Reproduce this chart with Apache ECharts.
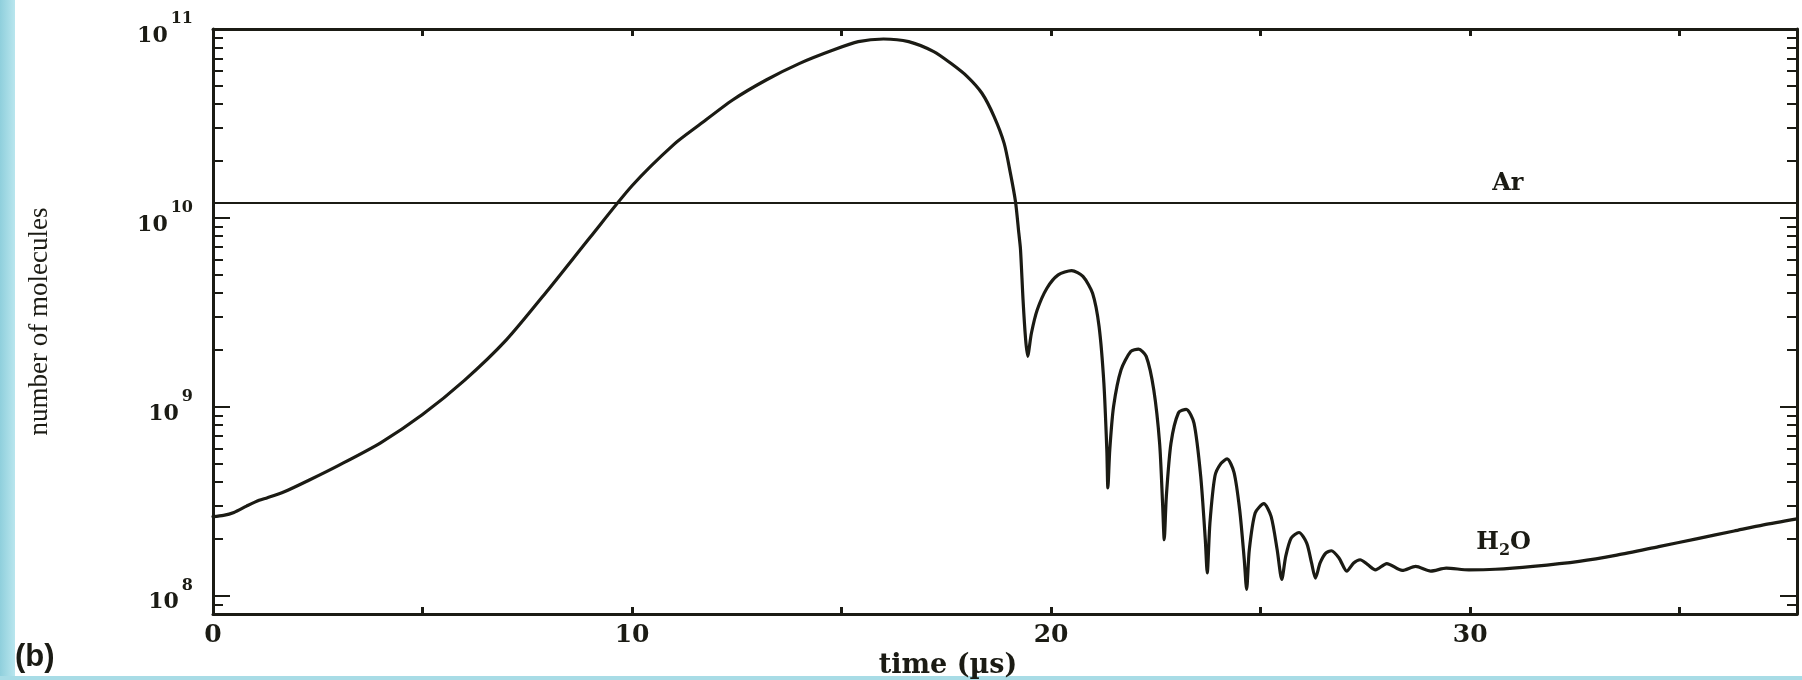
<!DOCTYPE html>
<html>
<head>
<meta charset="utf-8">
<title>Number of molecules vs time</title>
<script src="https://cdn.jsdelivr.net/npm/echarts@6/dist/echarts.min.js"></script>
<style>
  html, body { margin: 0; padding: 0; background: #ffffff; }
  #chart { width: 1802px; height: 680px; }
</style>
</head>
<body>
<div id="chart"></div>
<script>
// ---- data -------------------------------------------------------------
// Sample times (µs) of the H2O curve
const timeUs = [
  0, 0.25, 0.5, 0.8, 1.1, 1.3, 1.7, 2.3, 3.0, 4.0, 5.0, 6.0, 7.0, 8.0, 9.0, 10.0,
  11.0, 11.6, 12.4, 13.2, 14.0, 14.8, 15.4, 16.0, 16.6, 17.2, 17.6, 18.0, 18.35,
  18.64, 18.88, 19.03, 19.15, 19.23, 19.27, 19.33, 19.39,
  19.44, 19.53, 19.67, 19.90, 20.17, 20.49, 20.76, 20.99, 21.145, 21.26, 21.33,
  21.355, 21.40, 21.49, 21.67, 21.90, 22.085, 22.27, 22.45, 22.59, 22.66,
  22.70, 22.75, 22.86, 23.04, 23.225, 23.41, 23.57, 23.68,
  23.726, 23.79, 23.91, 24.05, 24.20, 24.365, 24.50, 24.61,
  24.666, 24.73, 24.87, 25.076, 25.25, 25.395,
  25.505, 25.60, 25.73, 25.915, 26.10, 26.216,
  26.307, 26.42, 26.554, 26.69, 26.873,
  27.055, 27.22, 27.375, 27.557, 27.74, 28.01, 28.38, 28.70, 29.06, 29.43,
  29.97, 30.6, 31.5, 32.6, 33.5, 34.5, 35.4, 36.3, 37.0, 37.8
];
// Number of H2O molecules at each sample time
const h2oCount = [
  2.62e8, 2.66e8, 2.76e8, 2.98e8, 3.2e8, 3.3e8, 3.55e8, 4.1e8, 4.9e8, 6.45e8, 9.1e8, 1.38e9, 2.26e9, 4.17e9, 7.9e9, 1.48e10,
  2.45e10, 3.1e10, 4.21e10, 5.37e10, 6.58e10, 7.74e10, 8.57e10, 8.85e10, 8.57e10, 7.59e10, 6.6e10, 5.6e10, 4.57e10,
  3.44e10, 2.48e10, 1.72e10, 1.22e10, 8.3e9, 6.8e9, 3.7e9, 2.3e9,
  1.85e9, 2.45e9, 3.26e9, 4.24e9, 4.99e9, 5.26e9, 4.90e9, 3.99e9, 2.66e9, 1.33e9, 5.9e8,
  3.72e8, 5.9e8, 1.0e9, 1.57e9, 1.96e9, 2.02e9, 1.85e9, 1.23e9, 6.4e8, 3.1e8,
  1.98e8, 3.35e8, 6.4e8, 9.3e8, 9.7e8, 8.2e8, 4.3e8, 1.98e8,
  1.32e8, 2.42e8, 4.3e8, 5.0e8, 5.3e8, 4.5e8, 2.85e8, 1.55e8,
  1.08e8, 1.75e8, 2.74e8, 3.07e8, 2.63e8, 1.75e8,
  1.22e8, 1.62e8, 2.02e8, 2.16e8, 1.9e8, 1.49e8,
  1.24e8, 1.49e8, 1.68e8, 1.73e8, 1.58e8,
  1.35e8, 1.49e8, 1.55e8, 1.46e8, 1.37e8, 1.48e8, 1.36e8, 1.43e8, 1.35e8, 1.40e8,
  1.37e8, 1.38e8, 1.43e8, 1.52e8, 1.64e8, 1.82e8, 2.0e8, 2.2e8, 2.37e8, 2.55e8
];
// Constant argon level
const arCount = 1.2e10;

// Axis extents and tick values
const timeRange = [0, 37.8];
const timeTickStep = 5;
const timeLabels = [0, 10, 20, 30];
const countRange = [8e7, 1e11];
const decadeTicks = [1e8, 1e9, 1e10, 1e11];
const minorTicks = [9e7];
[1e8, 1e9, 1e10].forEach(function (d) {
  for (let m = 2; m <= 9; m++) minorTicks.push(m * d);
});

// ---- chart ------------------------------------------------------------
const INK = '#1b1b14';
const SERIF = '"DejaVu Serif", "Liberation Serif", serif';
const TIMES = '"Liberation Serif", "DejaVu Serif", serif';

function countAxis(position, ticks, tickLen, withLine, withLabels) {
  const axis = {
    type: 'log',
    logBase: 10,
    min: countRange[0],
    max: countRange[1],
    position: position,
    axisLine: { show: withLine, lineStyle: { color: INK, width: 3 } },
    axisTick: {
      show: true, inside: true, length: tickLen, customValues: ticks,
      lineStyle: { color: INK, width: 2 }
    },
    axisLabel: { show: false },
    splitLine: { show: false },
    minorTick: { show: false }
  };
  if (withLabels) {
    axis.axisLabel = {
      show: true,
      customValues: decadeTicks,
      margin: 20,
      color: INK,
      formatter: function (v) {
        return '{b|10}{e|' + Math.round(Math.log10(v)) + '}';
      },
      rich: {
        b: { fontFamily: SERIF, fontSize: 22, fontWeight: 'bold', lineHeight: 36, color: INK, verticalAlign: 'bottom' },
        e: { fontFamily: SERIF, fontSize: 16, fontWeight: 'bold', lineHeight: 16, color: INK, verticalAlign: 'top', padding: [0, 0, 0, 3] }
      }
    };
    axis.name = 'number of molecules';
    axis.nameLocation = 'middle';
    axis.nameRotate = 90;
    axis.nameGap = 160;
    axis.nameTextStyle = { fontFamily: TIMES, fontSize: 27, color: INK };
  }
  return axis;
}

function timeAxis(position, withLabels) {
  const axis = {
    type: 'value',
    position: position,
    min: timeRange[0],
    max: timeRange[1],
    interval: timeTickStep,
    axisLine: { show: true, lineStyle: { color: INK, width: 3 } },
    axisTick: { show: true, inside: true, length: 7, lineStyle: { color: INK, width: 3 } },
    axisLabel: { show: false },
    splitLine: { show: false }
  };
  if (withLabels) {
    axis.axisLabel = {
      show: true,
      customValues: timeLabels,
      margin: 9,
      fontFamily: SERIF,
      fontSize: 25,
      fontWeight: 'bold',
      color: INK
    };
    axis.name = 'time (µs)';
    axis.nameLocation = 'middle';
    axis.nameGap = 36;
    axis.nameTextStyle = { fontFamily: SERIF, fontSize: 27, fontWeight: 'bold', color: INK, padding: [0, 114, 0, 0] };
  }
  return axis;
}

const chart = echarts.init(document.getElementById('chart'), null, { renderer: 'canvas' });

chart.setOption({
  backgroundColor: '#ffffff',
  animation: false,
  title: {
    text: '(b)',
    left: 15,
    top: 642,
    padding: 0,
    textStyle: { fontFamily: '"Liberation Sans", Arial, sans-serif', fontSize: 31, fontWeight: 'bold', color: INK }
  },
  grid: { left: 213, right: 5, top: 29, bottom: 66, containLabel: false, outerBoundsMode: 'none' },
  graphic: [
    { type: 'rect', left: 0, top: 0, shape: { width: 15, height: 680 },
      style: { fill: new echarts.graphic.LinearGradient(0, 0, 1, 0, [
        { offset: 0, color: '#8fcfdc' }, { offset: 1, color: '#b9e6ee' }]) }, silent: true },
    { type: 'rect', left: 0, top: 676, shape: { width: 1802, height: 4 },
      style: { fill: '#a8dce6' }, silent: true }
  ],
  xAxis: [
    timeAxis('bottom', true),
    timeAxis('top', false)
  ],
  yAxis: [
    countAxis('left', decadeTicks, 17, true, true),
    countAxis('left', minorTicks, 10, false, false),
    countAxis('right', decadeTicks, 17, true, false),
    countAxis('right', minorTicks, 10, false, false)
  ],
  series: [
    {
      name: 'Ar',
      type: 'line',
      xAxisIndex: 0,
      yAxisIndex: 0,
      data: [[timeRange[0], arCount], [timeRange[1], arCount]],
      showSymbol: false,
      symbol: 'none',
      lineStyle: { color: INK, width: 2 },
      markPoint: {
        symbol: 'circle',
        symbolSize: 1,
        itemStyle: { color: 'rgba(0,0,0,0)' },
        label: {
          show: true, position: 'inside', offset: [0, -19],
          formatter: 'Ar', fontFamily: SERIF, fontSize: 24, fontWeight: 'bold', color: INK
        },
        data: [{ coord: [30.9, arCount] }]
      }
    },
    {
      name: 'H2O',
      type: 'line',
      xAxisIndex: 0,
      yAxisIndex: 0,
      data: timeUs.map(function (t, i) { return [t, h2oCount[i]]; }),
      showSymbol: false,
      symbol: 'none',
      smooth: 0.25,
      lineStyle: { color: INK, width: 3.2, cap: 'round', join: 'round' },
      markPoint: {
        symbol: 'circle',
        symbolSize: 1,
        itemStyle: { color: 'rgba(0,0,0,0)' },
        label: {
          show: true, position: 'inside',
          formatter: '{m|H}{s|2}{m|O}',
          rich: {
            m: { fontFamily: SERIF, fontSize: 24, fontWeight: 'bold', lineHeight: 28, color: INK, verticalAlign: 'top' },
            s: { fontFamily: SERIF, fontSize: 16, fontWeight: 'bold', lineHeight: 15, color: INK, verticalAlign: 'bottom' }
          }
        },
        data: [{ coord: [30.8, 1.86e8] }]
      }
    }
  ]
});
</script>
</body>
</html>
